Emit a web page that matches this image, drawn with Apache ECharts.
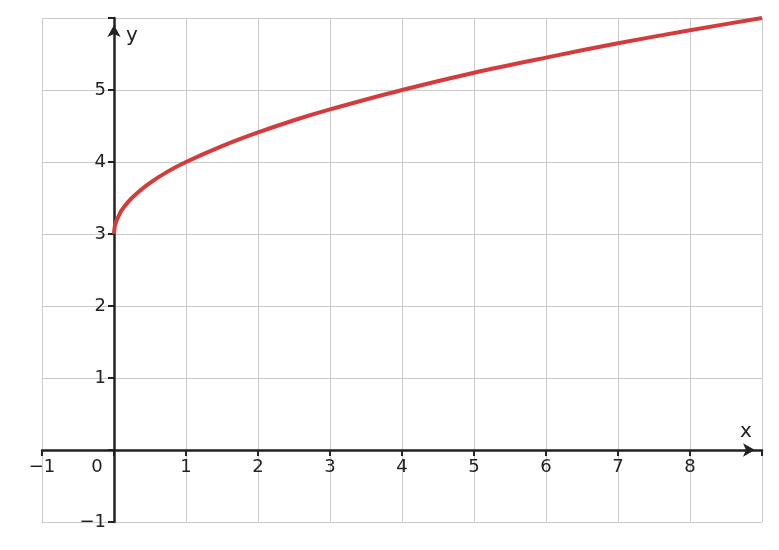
<!DOCTYPE html>
<html><head><meta charset="utf-8">
<script src="https://cdn.jsdelivr.net/npm/echarts@6/dist/echarts.min.js"></script>
<style>html,body{margin:0;padding:0;background:#fff}#c{width:779px;height:550px}</style>
</head><body><div id="c"></div>
<script>
const xValues=[0,0.01,0.03,0.06,0.1,0.2,0.3,0.5,0.75,1,1.5,2,2.5,3,4,5,6,7,8,9];
const yValues=[3,3.1,3.17,3.24,3.32,3.45,3.55,3.71,3.87,4,4.22,4.41,4.58,4.73,5,5.24,5.45,5.65,5.83,6];
const xTicks=[-1,0,1,2,3,4,5,6,7,8];
const yTicks=[-1,0,1,2,3,4,5];
const fmt=v=>v<0?'\u2212'+Math.abs(v):String(v);
const chart=echarts.init(document.getElementById('c'));
const font='DejaVu Sans';
chart.setOption({
  animation:false,
  grid:{left:42,right:17,top:18,bottom:28},
  xAxis:{type:'value',min:-1,max:9,interval:1,offset:-72,
    axisLine:{onZero:false,symbol:['none','arrow'],symbolSize:[10,12],symbolOffset:[0,-7],lineStyle:{color:'#222',width:2.5}},
    axisTick:{show:true,length:6,lineStyle:{color:'#222',width:2}},
    splitLine:{show:true,lineStyle:{color:'#ccc',width:1}},
    axisLabel:{fontFamily:font,fontSize:18,color:'#222',margin:8,
      formatter:v=>{if(v===9)return '';if(v===0)return '{z|0}';return fmt(v);},
      rich:{z:{fontFamily:font,fontSize:18,color:'#222',padding:[0,34,0,0]}}},
    name:'x',nameLocation:'end',nameGap:-22,
    nameTextStyle:{fontFamily:font,fontSize:20,color:'#222',verticalAlign:'bottom',padding:[0,0,8,0]}
  },
  yAxis:{type:'value',min:-1,max:6,interval:1,offset:-72,
    axisLine:{onZero:false,symbol:['none','arrow'],symbolSize:[10,12],symbolOffset:[0,-7],lineStyle:{color:'#222',width:2.5}},
    axisTick:{show:true,length:6,lineStyle:{color:'#222',width:2}},
    splitLine:{show:true,lineStyle:{color:'#ccc',width:1}},
    axisLabel:{fontFamily:font,fontSize:18,color:'#222',margin:8,
      formatter:v=>(v===0||v===6)?'':fmt(v)},
    name:'y',nameLocation:'end',nameGap:-28,
    nameTextStyle:{fontFamily:font,fontSize:20,color:'#222',align:'left',padding:[0,0,0,12]}
  },
  series:[{type:'line',data:xValues.map((x,i)=>[x,yValues[i]]),smooth:0.3,showSymbol:false,
    lineStyle:{color:'#d63b3b',width:4},z:5}]
});
</script></body></html>
